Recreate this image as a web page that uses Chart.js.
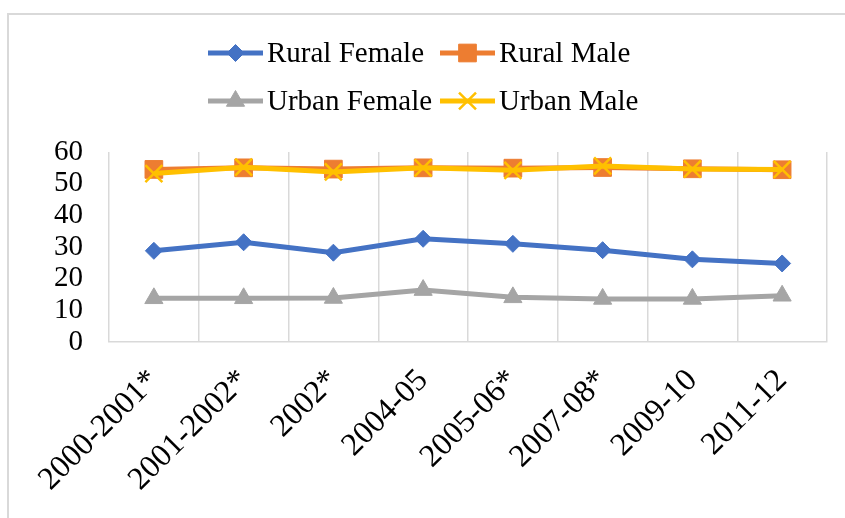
<!DOCTYPE html>
<html>
<head>
<meta charset="utf-8">
<script src="https://cdn.jsdelivr.net/npm/chart.js@4.4.1/dist/chart.umd.min.js"></script>
<style>
  html, body { margin: 0; padding: 0; background: #fff; }
  #wrap { position: relative; width: 845px; height: 518px; }
  #frame { position: absolute; left: 7px; top: 13px; right: -2px; bottom: -2px;
           border-top: 2px solid #d9d9d9; border-left: 2px solid #d9d9d9; }
  canvas { position: absolute; left: 0; top: 0; }
</style>
</head>
<body>
<div id="wrap">
  <div id="frame"></div>
  <canvas id="chart" width="845" height="518"></canvas>
</div>
<script>
const years = ["2000-2001*", "2001-2002*", "2002*", "2004-05", "2005-06*", "2007-08*", "2009-10", "2011-12"];

const ruralFemale = [28.8, 31.5, 28.2, 32.6, 31.0, 29.0, 26.1, 24.8];
const ruralMale = [54.5, 55.0, 54.6, 55.0, 54.9, 55.1, 54.7, 54.4];
const urbanFemale = [13.8, 13.8, 13.9, 16.4, 14.1, 13.6, 13.6, 14.6];
const urbanMale = [53.2, 55.2, 53.7, 55.0, 54.2, 55.6, 54.6, 54.5];

const yTicks = [0, 10, 20, 30, 40, 50, 60];

const serif = "'Liberation Serif', 'Times New Roman', serif";
const fontSize = 29;

const series = [
    { label: 'Rural Female', data: ruralFemale, color: '#4472C4', marker: 'rectRot', radius: 8.5 },
    { label: 'Rural Male', data: ruralMale, color: '#ED7D31', marker: 'rect', radius: 12.5 },
    { label: 'Urban Female', data: urbanFemale, color: '#A5A5A5', marker: 'triangle', radius: 10.5 },
    { label: 'Urban Male', data: urbanMale, color: '#FFC000', marker: 'crossRot', radius: 12 }
];

// excel style legend, 2 x 2, line with marker then the name
const legendPlugin = {
    id: 'excelLegend',
    afterDraw(chart) {
        const ctx = chart.ctx;
        const cols = [208, 440];
        const rows = [53, 101];
        ctx.save();
        ctx.font = fontSize + 'px ' + serif;
        ctx.textBaseline = 'middle';
        series.forEach((s, i) => {
            const x = cols[i % 2];
            const y = rows[Math.floor(i / 2)];
            ctx.strokeStyle = s.color;
            ctx.lineWidth = 5;
            ctx.beginPath();
            ctx.moveTo(x, y);
            ctx.lineTo(x + 55, y);
            ctx.stroke();
            ctx.fillStyle = s.color;
            ctx.lineWidth = s.marker === 'crossRot' ? 2.5 : 1;
            Chart.helpers.drawPoint(ctx, { pointStyle: s.marker, radius: s.radius, borderWidth: ctx.lineWidth }, x + 27.5, y);
            ctx.fillStyle = '#000';
            ctx.fillText(s.label, x + 59, y + 1);
        });
        ctx.restore();
    }
};

new Chart(document.getElementById('chart'), {
    type: 'line',
    data: {
        labels: years,
        datasets: series.map((s, i) => ({
            label: s.label,
            data: s.data,
            borderColor: s.color,
            backgroundColor: s.color,
            borderWidth: 5,
            pointStyle: s.marker,
            pointRadius: s.radius,
            pointBorderWidth: s.marker === 'crossRot' ? 2.5 : 1,
            pointBorderColor: s.color,
            pointBackgroundColor: s.color,
            tension: 0,
            order: 4 - i
        }))
    },
    options: {
        responsive: false,
        animation: false,
        layout: { padding: { top: 152, right: 18, left: 0, bottom: 0 } },
        plugins: { legend: { display: false }, tooltip: { enabled: false } },
        scales: {
            x: {
                offset: true,
                grid: { offset: true, color: '#d9d9d9', lineWidth: 1.5, drawTicks: false },
                border: { color: '#d9d9d9', width: 1.5 },
                ticks: {
                    font: { family: serif, size: 32 },
                    color: '#000',
                    minRotation: 45,
                    maxRotation: 45,
                    padding: 20,
                    autoSkip: false
                },
                afterFit(scale) { scale.height = 176; }
            },
            y: {
                min: 0,
                max: 60,
                afterBuildTicks(scale) { scale.ticks = yTicks.map(v => ({ value: v })); },
                grid: { display: false, drawTicks: false },
                border: { display: false },
                ticks: {
                    font: { family: serif, size: fontSize },
                    color: '#000',
                    padding: 26,
                    autoSkip: false
                },
                afterFit(scale) { scale.width = 109; }
            }
        }
    },
    plugins: [legendPlugin]
});
</script>
</body>
</html>
